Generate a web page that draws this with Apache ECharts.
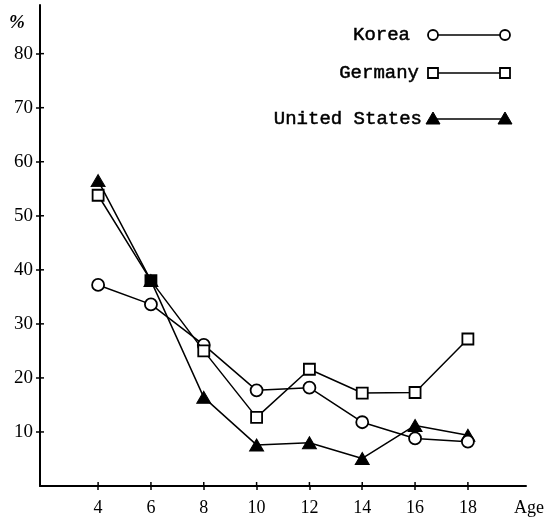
<!DOCTYPE html>
<html>
<head>
<meta charset="utf-8">
<script src="https://cdn.jsdelivr.net/npm/echarts@6/dist/echarts.min.js"></script>
<style>
html,body{margin:0;padding:0;background:#fff;}
#chart{width:547px;height:521px;}
</style>
</head>
<body>
<div id="chart"></div>
<script>
const ages = [4, 6, 8, 10, 12, 14, 16, 18];
const korea = [37.2, 33.6, 26.1, 17.7, 18.2, 11.8, 8.8, 8.2];
const germany = [53.8, 38.0, 25.0, 12.7, 21.6, 17.2, 17.3, 27.2];
const unitedStates = [56.5, 38.0, 16.4, 7.6, 8.0, 5.1, 11.2, 9.4];
const yTickValues = [10, 20, 30, 40, 50, 60, 70, 80];
const xTickValues = [4, 6, 8, 10, 12, 14, 16, 18];
const legendNames = ['Korea', 'Germany', 'United States'];

const gridL = 40, gridR = 21, gridT = 5, gridB = 35;

const chart = echarts.init(document.getElementById('chart'), null, {renderer: 'canvas'});
const serif = '"Liberation Serif", "Times New Roman", serif';
const legFont = '"Liberation Mono", monospace';

function pairs(vals) { return ages.map((a, i) => [a, vals[i]]); }

const legendY = [35, 73, 119];
const legendTextRight = [410, 419, 422];
const graphics = [];
legendNames.forEach((name, i) => {
  const y = legendY[i];
  graphics.push({
    type: 'text', x: legendTextRight[i], y: y,
    style: {text: name, font: '19px ' + legFont, fill: '#000', stroke: '#000', lineWidth: 0.5, align: 'right', verticalAlign: 'middle'}
  });
  graphics.push({
    type: 'line', shape: {x1: 433, y1: y, x2: 505, y2: y},
    style: {stroke: '#000', lineWidth: 1.5}
  });
  [433, 505].forEach(cx => {
    if (i === 0) {
      graphics.push({type: 'circle', shape: {cx: cx, cy: y, r: 5}, style: {fill: '#fff', stroke: '#000', lineWidth: 1.8}, z: 10});
    } else if (i === 1) {
      graphics.push({type: 'rect', shape: {x: cx - 5, y: y - 5, width: 10, height: 10}, style: {fill: '#fff', stroke: '#000', lineWidth: 1.8}, z: 10});
    } else {
      graphics.push({type: 'polygon', shape: {points: [[cx, y - 7], [cx - 7, y + 5], [cx + 7, y + 5]]}, style: {fill: '#000', stroke: '#000'}, z: 10});
    }
  });
});
graphics.push({type: 'text', x: 17, y: 23, style: {text: '%', font: 'italic bold 19px ' + serif, fill: '#000', align: 'center', verticalAlign: 'middle'}});
graphics.push({type: 'text', x: 514, y: 508, style: {text: 'Age', font: '18px ' + serif, fill: '#000', align: 'left', verticalAlign: 'middle'}});

const tickStyle = {color: '#000', width: 1.5};

const option = {
  backgroundColor: '#fff',
  animation: false,
  grid: {left: gridL, right: gridR, top: gridT, bottom: gridB, containLabel: false},
  xAxis: {
    type: 'value', min: 1.8, max: 20.2, splitLine: {show: false}, position: 'bottom',
    axisLine: {show: true, onZero: false, lineStyle: {color: '#000', width: 2}},
    axisTick: {show: true, inside: false, length: 4, customValues: xTickValues, lineStyle: tickStyle},
    axisLabel: {show: true, customValues: xTickValues, margin: 13, color: '#000', fontFamily: serif, fontSize: 18}
  },
  yAxis: {
    type: 'value', min: 0, max: 89, splitLine: {show: false}, position: 'left',
    axisLine: {show: true, onZero: false, lineStyle: {color: '#000', width: 2}},
    axisTick: {show: true, inside: false, length: 4, customValues: yTickValues, lineStyle: tickStyle},
    axisLabel: {show: true, customValues: yTickValues, margin: 7, color: '#000', fontFamily: serif, fontSize: 19}
  },
  graphic: graphics,
  series: [
    {
      name: 'United States', type: 'line', data: pairs(unitedStates),
      symbol: 'triangle', symbolSize: [14, 12],
      lineStyle: {color: '#000', width: 1.5},
      itemStyle: {color: '#000', borderColor: '#000', borderWidth: 1},
      z: 2
    },
    {
      name: 'Korea', type: 'line', data: pairs(korea),
      symbol: 'circle', symbolSize: 12,
      lineStyle: {color: '#000', width: 1.5},
      itemStyle: {color: '#fff', borderColor: '#000', borderWidth: 1.8},
      z: 3
    },
    {
      name: 'Germany', type: 'line',
      data: pairs(germany).map((p, i) => i === 1 ? {value: p, itemStyle: {color: '#000'}} : p),
      symbol: 'rect', symbolSize: 11,
      lineStyle: {color: '#000', width: 1.5},
      itemStyle: {color: '#fff', borderColor: '#000', borderWidth: 1.8},
      z: 4
    }
  ]
};
chart.setOption(option);

// inner halves of the cross-shaped ticks, positioned through the axis scales
const axisX0 = chart.convertToPixel({xAxisIndex: 0}, 1.8);
const axisY0 = chart.convertToPixel({yAxisIndex: 0}, 0);
const innerTicks = [];
xTickValues.forEach(v => {
  const px = chart.convertToPixel({xAxisIndex: 0}, v);
  innerTicks.push({type: 'line', shape: {x1: px, y1: axisY0, x2: px, y2: axisY0 - 4}, style: {stroke: '#000', lineWidth: 1.5}, z: 5});
});
yTickValues.forEach(v => {
  const py = chart.convertToPixel({yAxisIndex: 0}, v);
  innerTicks.push({type: 'line', shape: {x1: axisX0, y1: py, x2: axisX0 + 4, y2: py}, style: {stroke: '#000', lineWidth: 1.5}, z: 5});
});
chart.setOption({graphic: graphics.concat(innerTicks)});
</script>
</body>
</html>
